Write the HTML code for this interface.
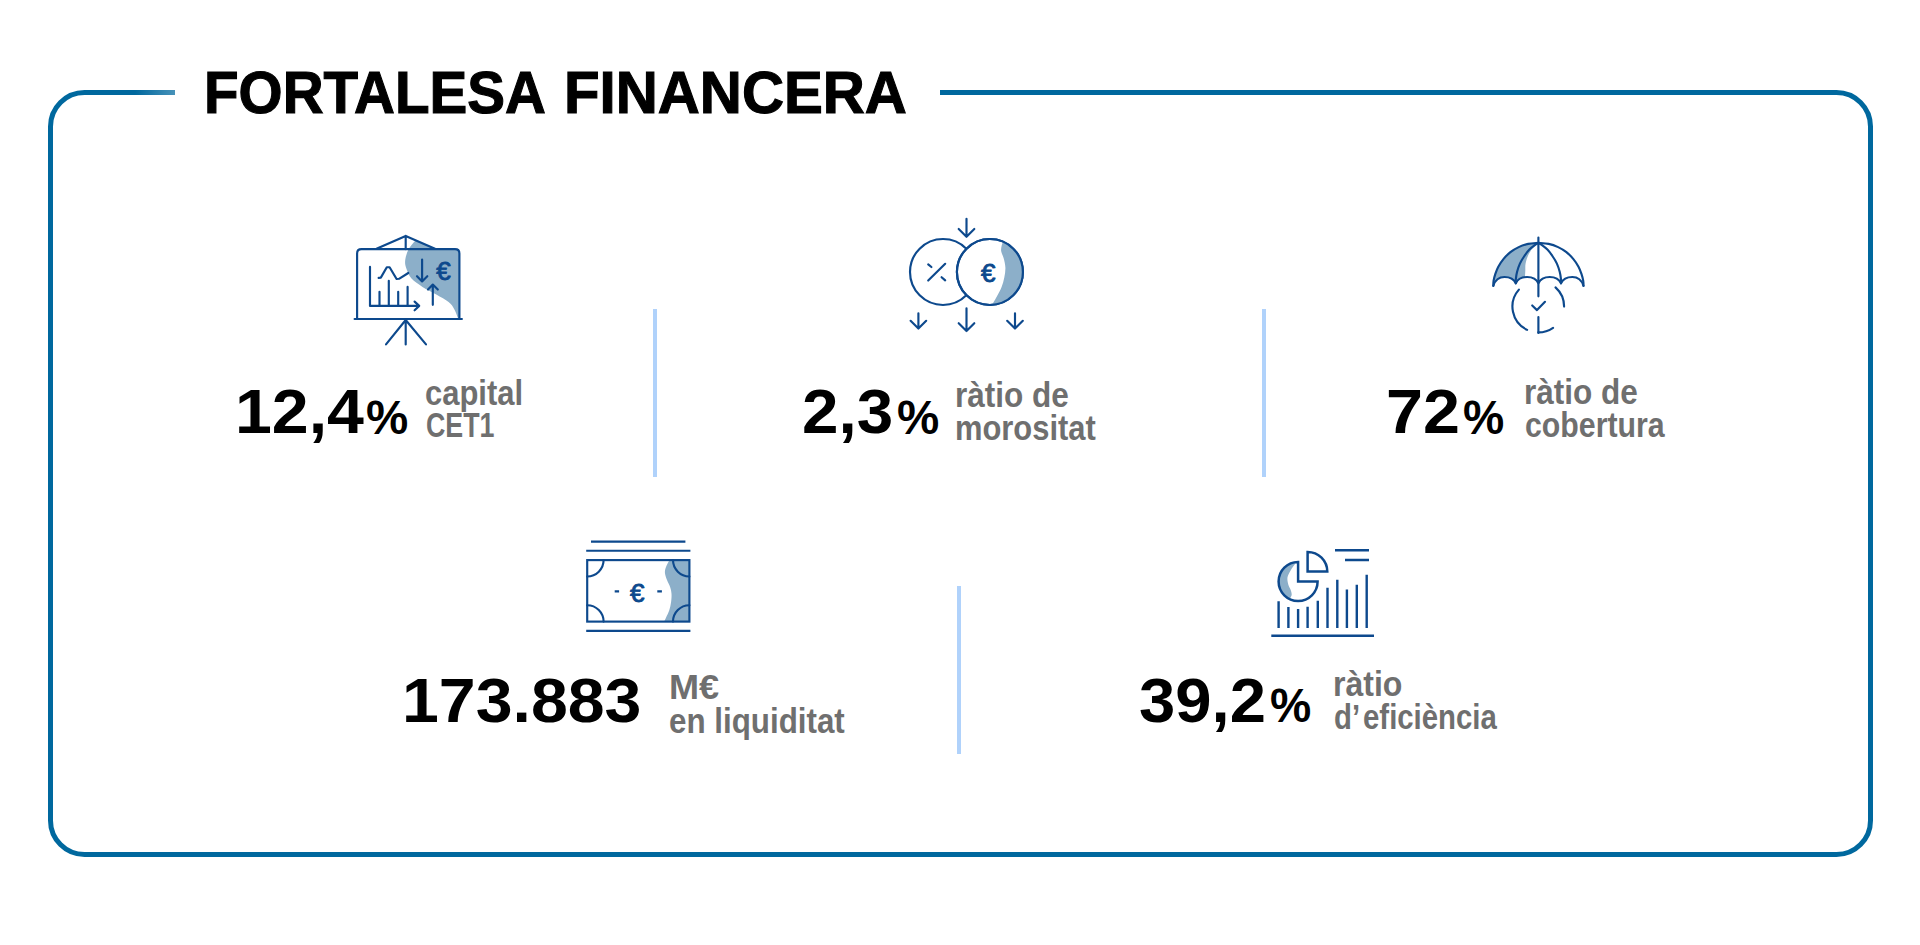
<!DOCTYPE html>
<html lang="ca">
<head>
<meta charset="utf-8">
<title>Fortalesa financera</title>
<style>
html,body{margin:0;padding:0;background:#fff;}
body{width:1920px;height:945px;position:relative;overflow:hidden;font-family:"Liberation Sans",sans-serif;}
#art{position:absolute;left:0;top:0;width:1920px;height:945px;}
.t{position:absolute;white-space:nowrap;font-weight:bold;line-height:1;transform-origin:0 0;margin:0;}
.k{color:#000;}
#title1,#title2{-webkit-text-stroke:1.1px #000;}
.g{color:#6f6f6f;}
.ico{fill:none;stroke:#0d498d;stroke-width:2.15;stroke-linecap:round;stroke-linejoin:round;}
.shade{fill:#8cafc9;stroke:none;}
.eur{font-family:"Liberation Sans",sans-serif;font-weight:normal;fill:#0d498d;stroke:#0d498d;stroke-width:0.9;stroke-linejoin:round;}
</style>
</head>
<body>
<svg id="art" width="1920" height="945" viewBox="0 0 1920 945">
  <defs>
    <linearGradient id="fade" x1="0" y1="0" x2="1" y2="0">
      <stop offset="0" stop-color="#fff" stop-opacity="0"/>
      <stop offset="1" stop-color="#fff" stop-opacity="0.28"/>
    </linearGradient>
  </defs>
  <!-- frame -->
  <rect x="50.5" y="92.5" width="1820" height="762" rx="34" ry="34" fill="none" stroke="#00689e" stroke-width="5"/>
  <rect x="175" y="80" width="765" height="30" fill="#fff"/>
  <rect x="135" y="88" width="40" height="9" fill="url(#fade)"/>
  <!-- dividers -->
  <rect x="653" y="309" width="4" height="168" fill="#b0d2fb"/>
  <rect x="1262" y="309" width="4" height="168" fill="#b0d2fb"/>
  <rect x="957" y="586" width="4" height="168" fill="#b0d2fb"/>
  <!--ICONS-->
  <g id="ico1">
  <path class="shade" d="M415.6,240.3 C414.5,241.8 410.5,245.9 408.8,249.1 C407.0,252.2 405.8,256.3 405.3,259.4 C404.9,262.5 405.0,264.4 406.0,267.6 C407.0,270.8 408.8,275.4 411.5,278.6 C414.3,281.8 418.4,284.3 422.5,286.9 C426.6,289.5 431.9,291.9 436.3,294.5 C440.6,297.0 445.7,299.6 448.6,302.0 C451.6,304.4 452.6,306.3 454.1,308.9 C455.7,311.5 457.2,316.3 457.9,317.8 L459.4,318.5 L459.4,253.5 Q459.4,249.1 455,249.1 L435.2,249 Z"/>
  <path class="ico" d="M376.5,248.8 L405.7,235.9 L435,248.8 M405.7,235.9 V249.1"/>
  <path class="ico" d="M357.1,319 V253.5 Q357.1,249.1 361.5,249.1 H455 Q459.4,249.1 459.4,253.5 V319"/>
  <path class="ico" d="M354.6,319 H461.9"/>
  <path class="ico" d="M405.7,320 V344.4 M405.7,320 L386,344.4 M405.7,320 L426,344.4"/>
  <path class="ico" d="M370,266.9 V305.9 H418.8 M414.6,301.6 L419.2,305.9 L414.6,310.3"/>
  <path class="ico" d="M379.5,291.8 V305.5 M388.8,280.8 V305.5 M398.2,291.8 V305.5 M407.6,286.9 V305.5"/>
  <path class="ico" d="M378.6,277.9 L380.8,277.6 L386.8,267.2 L389.6,267.2 L396.6,279 L399,278.8 L408.3,273"/>
  <path class="ico" d="M422.1,259.5 V281.2 M417,276.2 L422.1,281.4 L427.3,276.2"/>
  <path class="ico" d="M432.8,304.8 V284.8 M428,289.5 L432.8,284.6 L437.8,289.5"/>
  <text class="eur" x="436.2" y="279.9" font-size="26">€</text>
  </g>
  <g id="ico2">
  <circle class="ico" cx="943" cy="272" r="33"/>
  <circle class="ico" cx="989.9" cy="272" r="33" fill="#fff" style="fill:#fff"/>
  <path class="shade" d="M1003.1,241.7 A33.0,33.0 0 0 1 992.2,304.9 C993.1,303.3 995.9,298.2 997.5,295.3 C999.0,292.3 1000.4,290.0 1001.6,287.0 C1002.7,284.0 1003.7,280.6 1004.3,277.4 C1005.0,274.2 1005.5,271.0 1005.4,267.8 C1005.3,264.6 1004.4,260.9 1003.6,258.1 C1002.9,255.4 1001.5,253.3 1001.2,251.3 C1000.8,249.2 1001.3,247.6 1001.6,246.0 C1001.9,244.4 1002.8,242.5 1003.1,241.7 Z"/>
  <circle class="ico" cx="989.9" cy="272" r="33"/>
  <path class="ico" d="M966.5,218.8 V236.8 M958.7,229.0 L966.5,236.8 L974.3,229.0"/>
  <path class="ico" d="M966.5,308.2 V331.0 M958.7,323.2 L966.5,331.0 L974.3,323.2"/>
  <path class="ico" d="M918.4,313.2 V328.6 M910.6,320.8 L918.4,328.6 L926.2,320.8"/>
  <path class="ico" d="M1015.0,313.2 V328.6 M1007.2,320.8 L1015.0,328.6 L1022.8,320.8"/>
  <path class="ico" d="M928.2,280.6 L945.2,263.8 M928.2,264.4 L931.4,267 M941.6,277.2 L945.2,280.4"/>
  <text class="eur" x="981.0" y="281.7" font-size="26">€</text>
  </g>
  <g id="ico3">
  <path class="shade" d="M1538.4,242.9 C1536.7,243.1 1531.5,243.2 1528.2,243.9 C1524.9,244.6 1521.7,245.7 1518.7,247.1 C1515.7,248.5 1513.0,250.1 1510.4,252.1 C1507.9,254.1 1505.4,256.7 1503.4,259.1 C1501.4,261.5 1499.7,264.1 1498.3,266.7 C1496.9,269.2 1496.0,272.1 1495.2,274.4 C1494.4,276.7 1493.9,278.8 1493.6,280.7 C1493.3,282.6 1493.3,284.9 1493.3,285.8 Q1496.1,277.0 1504.5,277.0 Q1513.0,277.0 1515.8,283.3 Q1518.5,277.6 1525.0,277.4 C1525.0,276.3 1525.2,272.9 1525.3,270.6 C1525.4,268.3 1525.1,266.2 1525.6,263.6 C1526.1,261.1 1527.1,257.7 1528.2,255.3 C1529.3,252.9 1530.7,250.7 1532.0,249.0 C1533.3,247.3 1534.7,246.2 1535.8,245.2 C1536.9,244.2 1538.0,243.3 1538.4,242.9 Z"/>
  <path class="ico" d="M1493.3,285.8 C1493.3,284.9 1493.3,282.6 1493.6,280.7 C1493.9,278.8 1494.4,276.7 1495.2,274.4 C1496.0,272.1 1496.9,269.2 1498.3,266.7 C1499.7,264.1 1501.4,261.5 1503.4,259.1 C1505.4,256.7 1507.9,254.1 1510.4,252.1 C1513.0,250.1 1515.7,248.5 1518.7,247.1 C1521.7,245.7 1524.9,244.6 1528.2,243.9 C1531.5,243.2 1536.7,243.1 1538.4,242.9 C1540.1,243.1 1545.3,243.2 1548.6,243.9 C1551.9,244.6 1555.1,245.7 1558.1,247.1 C1561.1,248.5 1563.9,250.1 1566.4,252.1 C1569.0,254.1 1571.4,256.7 1573.4,259.1 C1575.4,261.5 1577.1,264.1 1578.5,266.7 C1579.9,269.2 1580.8,272.1 1581.6,274.4 C1582.4,276.7 1582.9,278.8 1583.2,280.7 C1583.5,282.6 1583.5,284.9 1583.5,285.8"/>
  <path class="ico" d="M1493.3,285.8 Q1496.1,277.0 1504.5,277.0 Q1513.0,277.0 1515.8,283.3 Q1518.6,277.0 1527.1,277.0 Q1535.6,277.0 1538.4,283.3 Q1541.2,277.0 1549.7,277.0 Q1558.2,277.0 1561.0,283.3 Q1563.8,277.0 1572.3,277.0 Q1580.7,277.0 1583.5,285.8"/>
  <path class="ico" d="M1538.4,242.9 C1538.0,243.2 1537.3,243.4 1535.8,244.5 C1534.3,245.6 1531.3,247.7 1529.4,249.6 C1527.5,251.5 1526.0,253.7 1524.4,256.0 C1522.8,258.3 1521.1,261.0 1519.9,263.6 C1518.7,266.2 1517.8,269.2 1517.1,271.8 C1516.4,274.4 1516.0,277.5 1515.8,279.4 C1515.6,281.3 1515.8,282.6 1515.8,283.3"/>
  <path class="ico" d="M1538.4,242.9 C1538.8,243.2 1539.5,243.4 1541.0,244.5 C1542.5,245.6 1545.5,247.7 1547.4,249.6 C1549.3,251.5 1550.8,253.7 1552.4,256.0 C1554.0,258.3 1555.7,261.0 1556.9,263.6 C1558.1,266.2 1559.0,269.2 1559.7,271.8 C1560.4,274.4 1560.8,277.5 1561.0,279.4 C1561.2,281.3 1561.0,282.6 1561.0,283.3"/>
  <path class="ico" d="M1538.4,237.6 V296.3 M1538.4,317.0 V333.0"/>
  <path class="ico" d="M1518.9,289.6 A25.8,25.8 0 0 0 1527.1,329.9"/>
  <path class="ico" d="M1555.5,287.4 A25.8,25.8 0 0 1 1564.1,306.6"/>
  <path class="ico" d="M1538.3,332.4 A25.8,25.8 0 0 0 1553.1,327.8"/>
  <path class="ico" d="M1532.2,305.5 L1537.0,310.1 L1545.0,301.8"/>
  </g>
  <g id="ico4">
  <path class="shade" d="M669.3,560.5 C668.8,561.4 667.0,564.3 666.3,566.3 C665.5,568.3 664.8,570.2 664.9,572.4 C665.0,574.7 666.1,577.6 667.0,580.0 C667.8,582.4 669.4,584.6 670.1,586.9 C670.9,589.2 671.3,591.2 671.5,593.8 C671.7,596.3 671.4,599.3 671.1,602.0 C670.7,604.8 670.1,607.7 669.3,610.3 C668.5,612.8 667.1,615.3 666.3,617.1 C665.4,619.0 664.5,620.8 664.2,621.5 L689.4,621.6 L689.4,560.1 Z"/>
  <path class="ico" style="stroke-linecap:butt" d="M591,541.6 H685.4 M586.2,550.7 H690.4 M586.2,630.9 H690.4"/>
  <rect class="ico" style="stroke-linejoin:miter" x="587.2" y="560.1" width="102.2" height="61.5"/>
  <path class="ico" d="M603.6,560.1 A16.4,16.4 0 0 1 587.2,576.5"/>
  <path class="ico" d="M587.2,605.2 A16.4,16.4 0 0 1 603.6,621.6"/>
  <path class="ico" d="M673.0,560.1 A16.4,16.4 0 0 0 689.4,576.5"/>
  <path class="ico" d="M689.4,605.2 A16.4,16.4 0 0 0 673.0,621.6"/>
  <path class="ico" style="stroke-linecap:butt" d="M614.7,591.3 H619.1 M657.3,591.3 H661.9"/>
  <text class="eur" x="630.0" y="601.7" font-size="26">€</text>
  </g>
  <g id="ico5">
  <path class="shade" d="M1295.2,562.2 A19.5,19.5 0 0 0 1289.9,599.2 L1290.6,597.6 C1290.8,597.1 1291.7,595.8 1291.7,594.5 C1291.7,593.2 1291.2,591.4 1290.6,589.7 C1290.0,588.0 1288.7,586.3 1288.2,584.2 C1287.7,582.1 1287.1,579.6 1287.5,577.3 C1287.9,575.0 1289.3,572.7 1290.6,570.4 C1291.9,568.1 1294.6,564.7 1295.4,563.6 Z"/>
  <path class="ico" style="stroke-linejoin:miter;stroke-width:2.5" d="M1298.1,581.5 V562.0 A19.5,19.5 0 1 0 1317.6,581.5 Z"/>
  <path class="ico" style="stroke-linejoin:miter;stroke-width:2.5" d="M1307.6,571.6 V551.9 A19.7,19.7 0 0 1 1327.3,571.6 Z"/>
  <path class="ico" style="stroke-width:2.4;stroke-linecap:butt" d="M1278.6,601.2 V628.1 M1288.4,607.0 V628.1 M1298.1,609.0 V628.1 M1307.6,606.8 V628.1 M1317.8,600.7 V628.1 M1327.5,587.8 V628.1 M1337.3,579.8 V628.1 M1346.9,589.4 V628.1 M1356.8,584.7 V628.1 M1366.7,574.7 V628.1"/>
  <path class="ico" style="stroke-width:2.5;stroke-linecap:butt" d="M1271.3,635.7 H1374"/>
  <path class="ico" style="stroke-width:2.4;stroke-linecap:butt" d="M1335,550.2 H1369 M1345,560 H1369"/>
  </g>
  <!--/ICONS-->
</svg>

<!--TEXT-->
<h1 style="margin:0;font-size:inherit;font-weight:inherit">
<span class="t k" id="title1" style="left:203.80px;top:62.54px;font-size:59.6px;transform:scaleX(0.9506)">FORTALESA</span>
<span class="t k" id="title2" style="left:563.70px;top:62.54px;font-size:59.6px;transform:scaleX(0.9771)">FINANCERA</span>
</h1>

<div class="t k" id="n1" style="left:235.10px;top:380.27px;font-size:62.5px;transform:scaleX(1.0601)">12,4</div>
<div class="t k" id="p1" style="left:366.10px;top:393.62px;font-size:47.5px;transform:scaleX(1.0006)">%</div>
<div class="t g" id="a1" style="left:425.30px;top:374.95px;font-size:35px;transform:scaleX(0.8846)">capital</div>
<div class="t g" id="b1" style="left:425.80px;top:408.38px;font-size:34.5px;transform:scaleX(0.7769)">CET1</div>

<div class="t k" id="n2" style="left:802.20px;top:380.27px;font-size:62.5px;transform:scaleX(1.0493)">2,3</div>
<div class="t k" id="p2" style="left:896.50px;top:393.62px;font-size:47.5px;transform:scaleX(1.0006)">%</div>
<div class="t g" id="a2" style="left:955.20px;top:377.05px;font-size:35px;transform:scaleX(0.9002)">ràtio de</div>
<div class="t g" id="b2" style="left:955.20px;top:410.05px;font-size:35px;transform:scaleX(0.8824)">morositat</div>

<div class="t k" id="n3" style="left:1386.20px;top:380.27px;font-size:62.5px;transform:scaleX(1.0632)">72</div>
<div class="t k" id="p3" style="left:1463.20px;top:393.62px;font-size:47.5px;transform:scaleX(0.9765)">%</div>
<div class="t g" id="a3" style="left:1524.00px;top:373.95px;font-size:35px;transform:scaleX(0.9007)">ràtio de</div>
<div class="t g" id="b3" style="left:1524.60px;top:406.95px;font-size:35px;transform:scaleX(0.8655)">cobertura</div>

<div class="t k" id="n4" style="left:402.10px;top:668.58px;font-size:62.5px;transform:scaleX(1.0599)">173.883</div>
<div class="t g" id="a4" style="left:669.00px;top:670.27px;font-size:34.5px;transform:scaleX(1.0463)">M€</div>
<div class="t g" id="b4" style="left:669.40px;top:702.85px;font-size:35px;transform:scaleX(0.8951)">en liquiditat</div>

<div class="t k" id="n5" style="left:1139.00px;top:668.58px;font-size:62.5px;transform:scaleX(1.0432)">39,2</div>
<div class="t k" id="p5" style="left:1270.20px;top:681.92px;font-size:47.5px;transform:scaleX(0.9765)">%</div>
<div class="t g" id="a5" style="left:1333.10px;top:666.05px;font-size:35px;transform:scaleX(0.9156)">ràtio</div>
<div class="t g" id="b5" style="left:1333.60px;top:698.85px;font-size:35px;transform:scaleX(0.8385)">d<span style="letter-spacing:.1em">’</span>eficiència</div>
</body>
</html>
